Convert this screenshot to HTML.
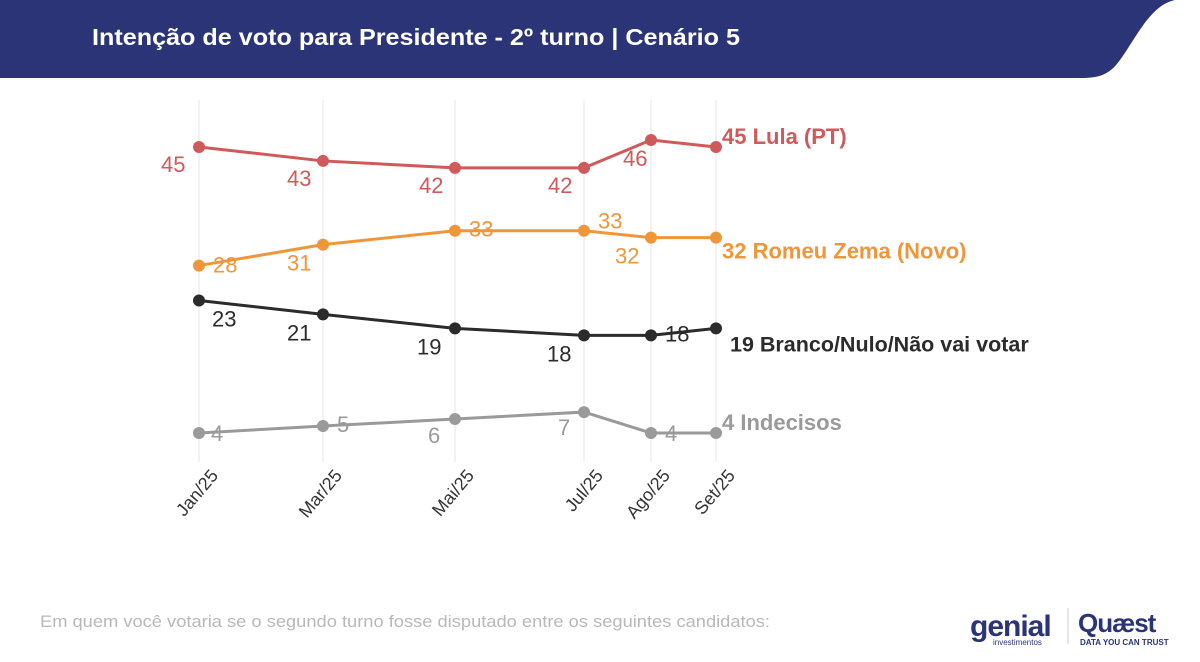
<!DOCTYPE html>
<html><head><meta charset="utf-8"><style>
body{margin:0;width:1200px;height:662px;overflow:hidden;background:#fff;font-family:"Liberation Sans",sans-serif}
svg{position:absolute;left:0;top:0}
</style></head><body>
<svg width="1200" height="662">
<path d="M0 0 H1175 C1150 5,1135 40,1120 60 C1110 74,1100 78,1082 78 H0 Z" fill="#2b3476"/>
<text x="92" y="45" fill="#fff" font-size="23" font-weight="bold" textLength="648" lengthAdjust="spacingAndGlyphs">Intenção de voto para Presidente - 2º turno | Cenário 5</text>
<g id="plot"></g>
<text x="40" y="627" fill="#b8b8b8" font-size="17" textLength="730" lengthAdjust="spacingAndGlyphs">Em quem você votaria se o segundo turno fosse disputado entre os seguintes candidatos:</text>
<g>
<text x="970" y="636" fill="#2b3476" font-size="30" font-weight="bold" letter-spacing="-1">genial</text>
<text x="993" y="645" fill="#2b3476" font-size="8">investimentos</text>
<line x1="1068" y1="608" x2="1068" y2="644" stroke="#ccc"/>
<text x="1078" y="632" fill="#2b3476" font-size="26" font-weight="bold" letter-spacing="-1">Quæst</text>
<text x="1080" y="645" fill="#2b3476" font-size="8" font-weight="bold">DATA YOU CAN TRUST</text>
</g>
</svg>
<script>
const categories=["Jan/25","Mar/25","Mai/25","Jul/25","Ago/25","Set/25"];
const catX=[199,323,455,584,651,716];
const lula=[45,43,42,42,46,45];
const zema=[28,31,33,33,32,32];
const branco=[23,21,19,18,18,19];
const indecisos=[4,5,6,7,4,4];
const seriesNames=["Lula (PT)","Romeu Zema (Novo)","Branco/Nulo/Não vai votar","Indecisos"];
function y(v){return 433-(v-4)*6.976;}
const ns="http://www.w3.org/2000/svg";
const g=document.getElementById('plot');
function el(t,a){const e=document.createElementNS(ns,t);for(const k in a)e.setAttribute(k,a[k]);g.appendChild(e);return e;}
categories.forEach((c,i)=>{
 const l=el('line',{x1:catX[i],x2:catX[i],y1:100,y2:462,stroke:'#e4e4e4','stroke-width':1});
 
 
 const ax=catX[i]+20, ay=476;
 const t=el('text',{x:ax,y:ay,'font-size':18,fill:'#333','text-anchor':'end',transform:`rotate(-50 ${ax} ${ay})`});
 t.textContent=c;
 
 
});
const defs=[
 {d:lula,c:'#d05a5a',n:0,off:[[-38,18],[-36,18],[-36,18],[-36,18],[-28,19],[0,0]]},
 {d:zema,c:'#f0963a',n:1,off:[[14,0],[-36,19],[14,-1],[14,-9],[-36,19],[0,0]]},
 {d:branco,c:'#2b2b2b',n:2,off:[[13,19],[-36,19],[-38,19],[-37,19],[14,-1],[0,0]]},
 {d:indecisos,c:'#9a9a9a',n:3,off:[[12,1],[14,-1],[-27,17],[-26,16],[14,1],[0,0]]}
];
defs.forEach(s=>{
 const pts=s.d.map((v,i)=>catX[i]+','+y(v)).join(' ');
 const pl=el('polyline',{points:pts,fill:'none',stroke:s.c,'stroke-width':3});
 
 
 s.d.forEach((v,i)=>{
  const c=el('circle',{cx:catX[i],cy:y(v),r:6,fill:s.c});
  
  
  if(i<s.d.length-1){
   const t=el('text',{x:catX[i]+s.off[i][0],y:y(v)+s.off[i][1]+7,'font-size':22,fill:s.c});
   t.textContent=v;
   
   
  }
 });
 const last=s.d.length-1;
 const e=el('text',{x:catX[last]+(s.n==2?14:6),y:y(s.d[last])+(s.n==2?23:(s.n==1?21:-3)),'font-size':s.n==2?21.5:22,'font-weight':'bold',fill:s.c});
 e.textContent=s.d[last]+' '+seriesNames[s.n];
 
 
});
</script>
</body></html>
